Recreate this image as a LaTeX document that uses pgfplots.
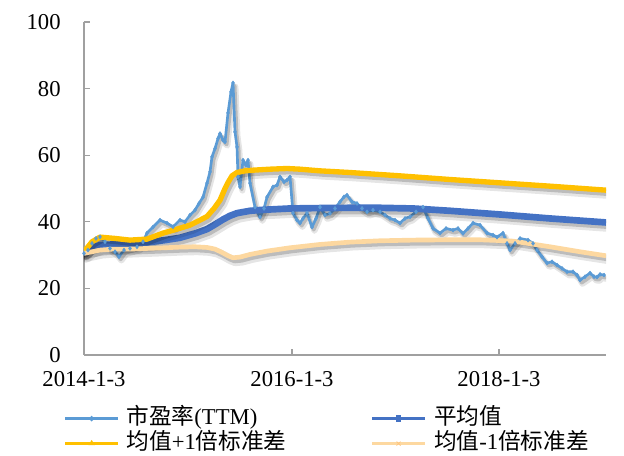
\documentclass[border=0pt]{standalone}
\usepackage{fontspec}
\setmainfont{Liberation Serif}
\newfontfamily\cjk{Noto Sans CJK SC}
\usepackage{pgfplots}
\usepackage{pgfplotstable}
\pgfplotsset{compat=1.18}
\definecolor{pecol}{RGB}{91,155,213}
\definecolor{meancol}{RGB}{68,114,196}
\definecolor{upcol}{RGB}{255,192,0}
\definecolor{lowcol}{RGB}{253,216,160}
\definecolor{axgray}{RGB}{160,160,160}
\pgfplotsset{
  shadowA/.style={forget plot, black, opacity=0.10, xshift=1.8pt, yshift=-2.8pt, line join=round, line cap=round, mark=none},
  shadowB/.style={forget plot, black, opacity=0.18, xshift=1.3pt, yshift=-2.0pt, line join=round, line cap=round, mark=none},
}
\pgfplotstableread{
x y
0 30.5
2 31.5
4 33.5
6 35
8 35.5
10.5 34
13 32
15.5 31
17.5 29.5
20 31.5
23 32
26.5 32.5
29.5 34
31.5 36.6
34.5 38.4
38 40.5
41.5 39.6
44.5 38.5
48 40.5
50.5 40
53 42
55.5 43.5
57.5 45.5
59.5 47.4
61.5 51.6
63 55
64 59.5
65.5 62
67 65
68 66.5
69.5 64.5
70.5 64
72 72.7
73.5 79
74.5 81.7
75.5 67
76.5 62.5
77 53.5
78 50.5
79.5 58.5
81 57
82 58.5
83 51.6
85.5 44.4
88 41.4
90 44
91.5 47.4
94.5 50.5
96.5 51
98 53.5
100 52
101.5 52.5
103 53.5
104.5 42.6
106.5 40.5
108 39.6
109.5 41
111.5 42.6
114 38.4
116 41
118 44.4
120.5 42
123 42.5
125.5 44
128 46
130 47.5
131.5 48
134 46
136.5 45.5
139 44
141.5 43
144.5 43.5
148 43
150.5 42
153 41
155.5 40.5
158 39.6
160.5 41
163 41.5
166 43
169.5 44.4
172 41
174.5 38
178 36.6
181 38
184.5 37.5
187 38
189.5 36.5
192 38
194.5 39.6
198 39
201.5 36.6
204.5 36
206.5 35.4
209.5 36.6
211.5 33.5
213 31.5
215.5 33.5
218 35
222 34.5
224.5 33.5
226.5 31.5
229 29.5
231.5 27.6
234 28
236.5 27
239 26
241.5 25
244.5 25
246.5 24
248 22.5
250.5 23.5
253 24.6
255 23.5
256.5 23.4
258 24.2
260 24
}\tpe
\pgfplotstableread{
x y
0 30.5
3 32
8 33
14.5 33.2
23 33.5
31.5 33.8
40.5 34.5
48 35.2
55.5 36.5
61.5 37.8
65.5 39.2
69.5 40.7
73 41.8
76.5 42.6
83 43.3
89.5 43.6
103 44
114.5 44.1
133 44.2
148 44.2
164.5 44
183 43.3
208 42.2
233 41
261 39.8
}\tmean
\pgfplotstableread{
x y
0 31
4 34
8 35.4
15.5 35
23 34.5
31.5 34.8
39.5 36.6
46.5 37.8
53 39
58 40.5
61.5 41.6
65 44
68 46.5
70.5 50
72 51.8
74 53.8
76.5 54.8
80.5 55.3
84.5 55.5
93 55.8
101.5 56
108 55.8
118 55.3
133 54.8
158 53.8
183 52.7
208 51.7
233 50.7
261 49.5
}\tup
\pgfplotstableread{
x y
0 30.5
4 31
8 31.5
14.5 31.8
23 31.8
31.5 32
40.5 32.2
48 32.4
55.5 32.5
61.5 32.3
65.5 31.8
69 30.8
72 29.8
74.5 29.2
78 29.4
83 30.2
91.5 31.2
103 32.2
118 33.2
133 33.9
148 34.3
164.5 34.5
183 34.6
198 34.6
214.5 34.2
233 32.5
248 31
261 29.8
}\tlow
\begin{document}
\begin{tikzpicture}
\begin{axis}[
  scale only axis, width=391.5pt, height=249.75pt,
  xmin=0, xmax=261, ymin=0, ymax=100,
  axis x line*=bottom, axis y line*=left,
  axis line style={draw=axgray, line width=0.9pt, -},
  tick style={draw=axgray, line width=0.9pt},
  tick align=inside, major tick length=4.5pt,
  xtick={0,104,207.5}, xticklabels={2014-1-3,2016-1-3,2018-1-3},
  ytick={0,20,40,60,80,100},
  font=\fontsize{17}{20}\selectfont,
  /pgf/number format/assume math mode=true,
  yticklabel style={xshift=-14pt},
  xticklabel style={yshift=-9pt},
  legend columns=2, legend cell align=left,
  legend style={at={(-0.039,-0.155)}, anchor=north west, draw=none, fill=none,
    inner sep=0pt, outer sep=0pt, row sep=0.75pt,
    nodes={inner sep=1pt, text height=12.5pt, text depth=3.5pt},
    /tikz/every even column/.append style={column sep=62pt},
    font=\fontsize{17}{20}\selectfont},
]
% PE
\addplot[shadowA, line width=4.5pt] table {\tpe};
\addplot[shadowB, line width=2.6pt] table {\tpe};
\addplot[pecol, line width=2pt, line join=round, mark=diamond*, mark size=1.5pt,
  mark options={line width=0.4pt},
  legend image code/.code={\draw[pecol,line width=2.2pt] (0pt,0pt) -- (39.75pt,0pt); \path (43pt,0pt);
    \fill[pecol, draw=none] (19.9pt,2.2pt) -- (22.1pt,0pt) -- (19.9pt,-2.2pt) -- (17.7pt,0pt) -- cycle;}] table {\tpe};
\addlegendentry{{\cjk 市盈率}(TTM)}
% mean
\addplot[shadowA, line width=8.5pt] table {\tmean};
\addplot[shadowB, line width=5.8pt] table {\tmean};
\addplot[meancol, line width=5pt, line join=round,
  legend image code/.code={\draw[meancol,line width=2.2pt] (0pt,0pt) -- (39.75pt,0pt); \path (43pt,0pt);
    \fill[meancol, draw=none] (18.2pt,-2.4pt) rectangle (21.6pt,2.4pt);}] table {\tmean};
\addlegendentry{{\cjk 平均值}}
% upper
\addplot[shadowA, line width=7.5pt] table {\tup};
\addplot[shadowB, line width=4.8pt] table {\tup};
\addplot[upcol, line width=4pt, line join=round,
  legend image code/.code={\draw[upcol,line width=2.2pt] (0pt,0pt) -- (39.75pt,0pt); \path (43pt,0pt);
    \fill[upcol, draw=none] (19.9pt,2.8pt) -- (22.3pt,-1.2pt) -- (17.5pt,-1.2pt) -- cycle;}] table {\tup};
\addlegendentry{{\cjk 均值}+1{\cjk 倍标准差}}
% lower
\addplot[shadowA, line width=7pt] table {\tlow};
\addplot[shadowB, line width=4.3pt] table {\tlow};
\addplot[lowcol, line width=3.5pt, line join=round,
  legend image code/.code={\draw[lowcol,line width=2.2pt] (0pt,0pt) -- (39.75pt,0pt); \path (43pt,0pt);
    \draw[lowcol!80!orange, line width=0.6pt] (18.4pt,-1.5pt) -- (21.4pt,1.5pt) (18.4pt,1.5pt) -- (21.4pt,-1.5pt);}] table {\tlow};
\addlegendentry{{\cjk 均值}-1{\cjk 倍标准差}}
\end{axis}
\path (-63pt,-74.25pt) rectangle (405pt,266.25pt);
\end{tikzpicture}
\end{document}
